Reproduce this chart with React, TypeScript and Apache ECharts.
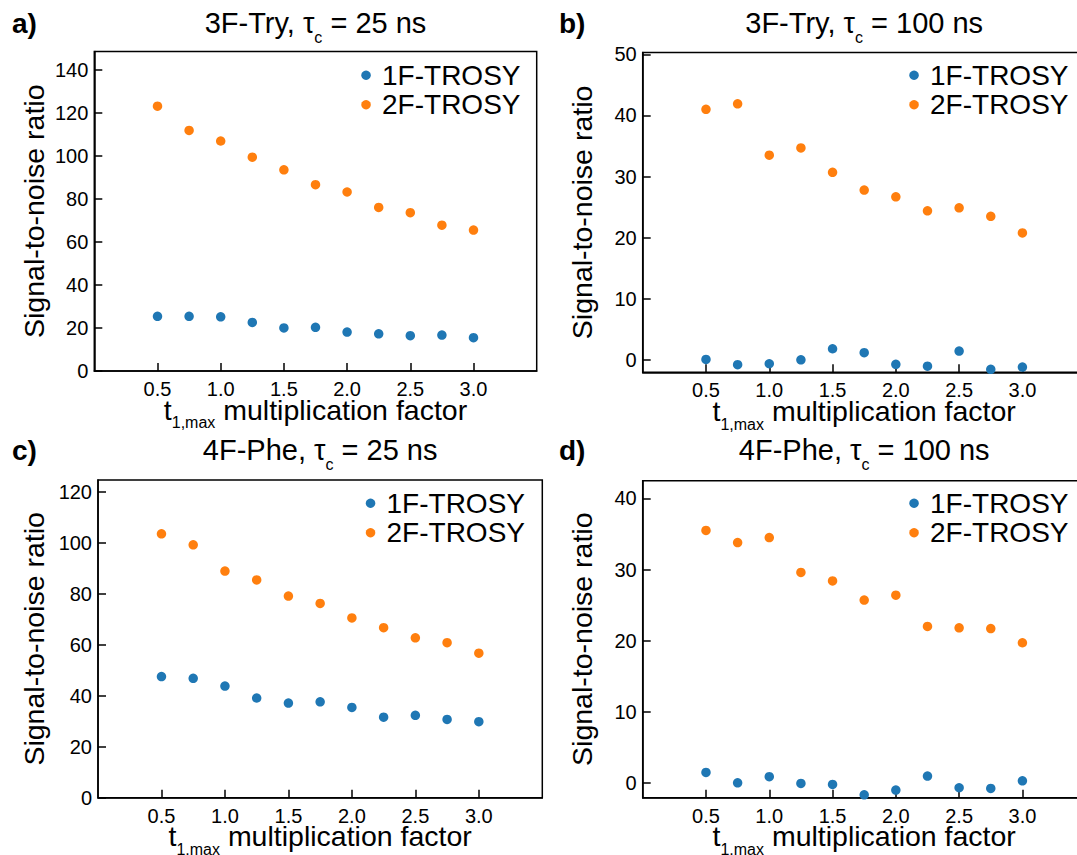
import React, { useEffect, useRef } from 'react';
import * as echarts from 'echarts';

// ---------- data ----------
const xValues = [0.5, 0.75, 1.0, 1.25, 1.5, 1.75, 2.0, 2.25, 2.5, 2.75, 3.0];
const xTicks = [0.5, 1.0, 1.5, 2.0, 2.5, 3.0];

const a1F = [25.4, 25.4, 25.2, 22.6, 20.0, 20.3, 18.1, 17.3, 16.4, 16.7, 15.5];
const a2F = [123.1, 111.8, 106.9, 99.4, 93.5, 86.6, 83.2, 76.0, 73.6, 67.8, 65.5];
const b1F = [0.1, -0.76, -0.6, 0.05, 1.85, 1.2, -0.7, -1.0, 1.47, -1.52, -1.14];
const b2F = [41.0, 41.9, 33.5, 34.7, 30.7, 27.8, 26.7, 24.4, 24.9, 23.5, 20.8];
const c1F = [47.5, 46.8, 43.8, 39.1, 37.1, 37.6, 35.4, 31.6, 32.3, 30.7, 29.8];
const c2F = [103.5, 99.2, 88.9, 85.4, 79.1, 76.2, 70.5, 66.7, 62.7, 60.8, 56.7];
const d1F = [1.46, 0.0, 0.85, -0.1, -0.23, -1.7, -1.03, 0.94, -0.7, -0.8, 0.28];
const d2F = [35.5, 33.8, 34.5, 29.6, 28.4, 25.7, 26.4, 22.0, 21.8, 21.7, 19.7];

const series1F = [a1F, b1F, c1F, d1F];
const series2F = [a2F, b2F, c2F, d2F];

const yTicksA = [0, 20, 40, 60, 80, 100, 120, 140];
const yTicksB = [0, 10, 20, 30, 40, 50];
const yTicksC = [0, 20, 40, 60, 80, 100, 120];
const yTicksD = [0, 10, 20, 30, 40];
const yTicks = [yTicksA, yTicksB, yTicksC, yTicksD];
const yRanges = [
  [0, 148.5],
  [-2, 50.3],
  [0, 124.6],
  [-2.1, 42.5],
];

const letters = ['a)', 'b)', 'c)', 'd)'];
const titleMain = ['3F-Try, τ', '3F-Try, τ', '4F-Phe, τ', '4F-Phe, τ'];
const titleSub = ['c', 'c', 'c', 'c'];
const titleRest = ['= 25 ns', '= 100 ns', '= 25 ns', '= 100 ns'];
const seriesNames = ['1F-TROSY', '2F-TROSY'];
const yLabel = 'Signal-to-noise ratio';
const xLabelMain = 't';
const xLabelSub = '1,max';
const xLabelRest = 'multiplication factor';

// ---------- layout / style ----------
const BLUE = '#1f77b4';
const ORANGE = '#ff7f0e';
const FONT = '"Liberation Sans", Arial, Helvetica, sans-serif';

const layout = [
  { left: 94.3, top: 51.5, width: 442.4, height: 319.5, letterX: 12, yLabX: 34, titleBase: 33.5, legRight: 556.5, legY: 61 },
  { left: 642.7, top: 52.5, width: 443, height: 319.8, letterX: 559, yLabX: 582, titleBase: 33.5, legRight: 8.5, legY: 61 },
  { left: 98, top: 480, width: 444.3, height: 317.7, letterX: 12, yLabX: 34, titleBase: 460.5, legRight: 552, legY: 489 },
  { left: 642.7, top: 480.7, width: 443, height: 317, letterX: 559, yLabX: 582, titleBase: 460.5, legRight: 8.5, legY: 489 },
];

let ctx2d: CanvasRenderingContext2D | null = null;
function measure(text: string, size: number, weight = 'normal') {
  if (!ctx2d) ctx2d = document.createElement('canvas').getContext('2d');
  ctx2d!.font = `${weight} ${size}px ${FONT}`;
  return ctx2d!.measureText(text).width;
}

function txt(text: string, x: number, baseline: number, size: number, weight = 'normal') {
  return {
    type: 'text',
    silent: true,
    style: {
      text,
      x,
      y: baseline - 0.3465 * size,
      fontSize: size,
      fontFamily: FONT,
      fontWeight: weight,
      lineHeight: Math.round(size * 0.8),
      fill: '#000',
      align: 'left',
      verticalAlign: 'middle',
    },
  };
}

const TITLE_SIZE = 29;
const SUB_SIZE = 16;
const LABEL_SIZE = 28.5;
const TICK_SIZE = 20;

function buildOption() {
  const grids: any[] = [];
  const xAxes: any[] = [];
  const yAxes: any[] = [];
  const series: any[] = [];
  const legends: any[] = [];
  const graphics: any[] = [];

  layout.forEach((p, i) => {
    grids.push({
      left: p.left,
      top: p.top,
      width: p.width,
      height: p.height,
      show: true,
      borderColor: '#000',
      borderWidth: 1.5,
      backgroundColor: 'transparent',
      containLabel: false,
      outerBoundsMode: 'none',
    });
    xAxes.push({
      type: 'value',
      gridIndex: i,
      min: 0,
      max: 3.5,
      axisLine: { show: true, onZero: false, lineStyle: { color: '#000', width: 1.5 } },
      axisTick: { show: true, inside: true, length: 8, customValues: xTicks, lineStyle: { color: '#000', width: 1.5 } },
      axisLabel: {
        show: true,
        customValues: xTicks,
        formatter: (v: number) => v.toFixed(1),
        fontSize: TICK_SIZE,
        lineHeight: 18,
        fontFamily: FONT,
        color: '#000',
        margin: 9,
      },
      splitLine: { show: false },
    });
    yAxes.push({
      type: 'value',
      gridIndex: i,
      min: yRanges[i][0],
      max: yRanges[i][1],
      axisLine: { show: true, onZero: false, lineStyle: { color: '#000', width: 1.5 } },
      axisTick: { show: true, inside: true, length: 8, customValues: yTicks[i], lineStyle: { color: '#000', width: 1.5 } },
      axisLabel: {
        show: true,
        customValues: yTicks[i],
        formatter: (v: number) => String(v),
        fontSize: TICK_SIZE,
        fontFamily: FONT,
        color: '#000',
        margin: 6,
      },
      splitLine: { show: false },
    });
    [series1F[i], series2F[i]].forEach((arr, k) => {
      series.push({
        type: 'scatter',
        name: seriesNames[k],
        xAxisIndex: i,
        yAxisIndex: i,
        symbol: 'circle',
        symbolSize: 9.5,
        itemStyle: { color: k === 0 ? BLUE : ORANGE, opacity: 1 },
        data: xValues.map((x, j) => [x, arr[j]]),
        clip: true,
        silent: true,
      });
    });
    legends.push({
      show: true,
      orient: 'vertical',
      right: p.legRight,
      top: p.legY,
      padding: 0,
      itemWidth: 22,
      itemHeight: 9.5,
      itemGap: 1,
      icon: 'circle',
      symbolKeepAspect: true,
      selectedMode: false,
      data: seriesNames,
      textStyle: { fontSize: 28, lineHeight: 28.5, color: '#000', fontFamily: FONT },
    });

    // texts
    const cx = p.left + p.width / 2;
    const cy = p.top + p.height / 2;
    graphics.push(txt(letters[i], p.letterX, p.titleBase, 28, 'bold'));

    const sp = measure(' ', TITLE_SIZE);
    const w1 = measure(titleMain[i], TITLE_SIZE);
    const ws = measure(titleSub[i], SUB_SIZE);
    const w2 = measure(titleRest[i], TITLE_SIZE);
    const tx0 = cx - (w1 + ws + sp + w2) / 2;
    graphics.push(txt(titleMain[i], tx0, p.titleBase, TITLE_SIZE));
    graphics.push(txt(titleSub[i], tx0 + w1, p.titleBase + 10, SUB_SIZE));
    graphics.push(txt(titleRest[i], tx0 + w1 + ws + sp, p.titleBase, TITLE_SIZE));

    const axisY = p.top + p.height;
    const xb = axisY + 48.5;
    const sp2 = measure(' ', LABEL_SIZE);
    const v1 = measure(xLabelMain, LABEL_SIZE);
    const vs = measure(xLabelSub, SUB_SIZE);
    const v2 = measure(xLabelRest, LABEL_SIZE);
    const xx0 = cx - (v1 + vs + sp2 + v2) / 2;
    graphics.push(txt(xLabelMain, xx0, xb, LABEL_SIZE));
    graphics.push(txt(xLabelSub, xx0 + v1, xb + 9, SUB_SIZE));
    graphics.push(txt(xLabelRest, xx0 + v1 + vs + sp2, xb, LABEL_SIZE));

    graphics.push({
      type: 'text',
      silent: true,
      x: p.yLabX,
      y: cy,
      rotation: Math.PI / 2,
      style: {
        text: yLabel,
        x: 0,
        y: 0,
        fontSize: LABEL_SIZE,
        lineHeight: 24,
        fontFamily: FONT,
        fill: '#000',
        align: 'center',
        verticalAlign: 'middle',
      },
    });
  });

  return {
    animation: false,
    backgroundColor: '#fff',
    grid: grids,
    xAxis: xAxes,
    yAxis: yAxes,
    legend: legends,
    series,
    graphic: graphics,
  };
}

export default function App() {
  const ref = useRef<HTMLDivElement>(null);
  useEffect(() => {
    if (!ref.current) return;
    const chart = echarts.init(ref.current, undefined, { renderer: 'svg' });
    chart.setOption(buildOption() as any);
    return () => chart.dispose();
  }, []);
  return (
    <div
      ref={ref}
      style={{ position: 'fixed', left: 0, top: 0, width: 1077, height: 855, background: '#fff' }}
    />
  );
}
